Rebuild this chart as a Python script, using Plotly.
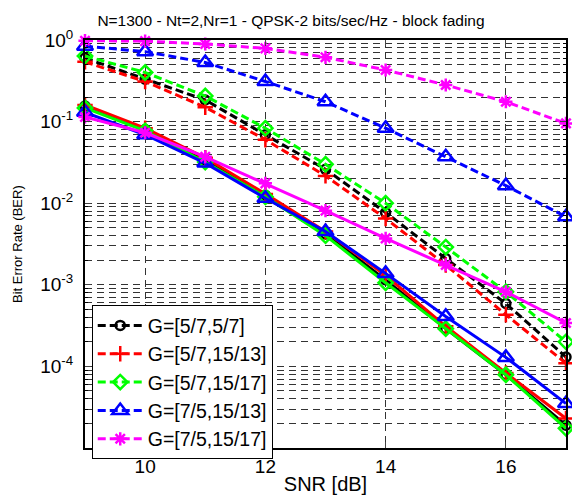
import plotly.graph_objects as go

snr = [9, 10, 11, 12, 13, 14, 15, 16, 17]

names = ["G=[5/7,5/7]", "G=[5/7,15/13]", "G=[5/7,15/17]", "G=[7/5,15/13]", "G=[7/5,15/17]"]
colors = ["#000000", "#ff0000", "#00ff00", "#0000ff", "#ff00ff"]
symbols = ["circle-open", "cross-thin-open", "diamond-open", "triangle-up-open", "asterisk-open"]
msizes = [9, 11, 11, 14, 11]

# dashed curves
ber_dashed = [
    [0.60, 0.33, 0.184, 0.069, 0.026, 0.0077, 0.0021, 5.9e-4, 1.3e-4],
    [0.54, 0.31, 0.15, 0.060, 0.0216, 0.0065, 0.00175, 4.3e-4, 1.09e-4],
    [0.637, 0.40, 0.206, 0.083, 0.030, 0.0100, 0.0029, 8.2e-4, 2.0e-4],
    [0.84, 0.72, 0.53, 0.31, 0.175, 0.083, 0.037, 0.0164, 0.0068],
    [0.98, 0.97, 0.893, 0.79, 0.614, 0.429, 0.281, 0.175, 0.095],
]
# solid curves
ber_solid = [
    [0.155, 0.080, 0.034, 0.0125, 0.0042, 0.00115, 2.9e-4, 7.9e-5, 1.9e-5],
    [0.160, 0.083, 0.036, 0.0130, 0.0045, 0.00130, 3.1e-4, 8.3e-5, 2.3e-5],
    [0.147, 0.077, 0.032, 0.0120, 0.0040, 0.00106, 2.9e-4, 7.9e-5, 1.74e-5],
    [0.130, 0.069, 0.031, 0.0115, 0.0045, 0.00138, 4.1e-4, 1.29e-4, 3.5e-5],
    [0.114, 0.073, 0.037, 0.0175, 0.0081, 0.0037, 0.00175, 8.2e-4, 3.4e-4],
]

ytickvals = [1, 0.1, 0.01, 0.001, 0.0001]
yticktext = ["10<sup>0</sup>", "10<sup>-1</sup>", "10<sup>-2</sup>", "10<sup>-3</sup>", "10<sup>-4</sup>"]
xtickvals = [10, 12, 14, 16]

fig = go.Figure()

for i in range(5):
    fig.add_trace(go.Scatter(
        x=snr, y=ber_dashed[i], name=names[i], mode="lines+markers",
        line=dict(color=colors[i], width=3, dash="8px,4px"),
        marker=dict(symbol=symbols[i], size=msizes[i], color=colors[i],
                    line=dict(color=colors[i], width=2.5)),
        cliponaxis=False, showlegend=True,
    ))
for i in range(5):
    fig.add_trace(go.Scatter(
        x=snr, y=ber_solid[i], name=names[i], mode="lines+markers",
        line=dict(color=colors[i], width=3),
        marker=dict(symbol=symbols[i], size=msizes[i], color=colors[i],
                    line=dict(color=colors[i], width=2.5)),
        cliponaxis=False, showlegend=False,
    ))

minor_vals = [m * 10.0 ** k for k in range(-5, 0) for m in range(2, 10)]

# the page body adds an 8px offset, so the figure is 8px smaller on each side
W, H = 572, 489
fig.update_layout(
    width=W, height=H,
    margin=dict(l=77, r=14, t=32, b=49, autoexpand=False),
    paper_bgcolor="white", plot_bgcolor="white",
    font=dict(family="Liberation Sans, Arial, sans-serif", size=19, color="black"),
    title=dict(text="N=1300 - Nt=2,Nr=1 - QPSK-2 bits/sec/Hz - block fading",
               font=dict(size=15.5, color="black"), x=(291 - 8) / W, xref="container",
               xanchor="center", y=1 - 13 / H, yanchor="middle", yref="container"),
    showlegend=True,
    legend=dict(x=0.014, y=0.35, xanchor="left", yanchor="top",
                bgcolor="white", bordercolor="black", borderwidth=1,
                font=dict(size=19.5), itemwidth=45, tracegroupgap=0),
    xaxis=dict(range=[9, 17], tickvals=xtickvals, ticks="inside", ticklen=6,
               showline=True, linecolor="black", linewidth=2, mirror="allticks",
               showgrid=True, gridcolor="#333333", griddash="7px,5px", gridwidth=1,
               zeroline=False, automargin=False,
               title=dict(text="SNR [dB]", standoff=1, font=dict(size=20))),
    yaxis=dict(type="log", range=[-5, 0], tickvals=ytickvals, ticktext=yticktext,
               ticks="inside", ticklen=6, automargin=False, ticklabelstandoff=6,
               showline=True, linecolor="black", linewidth=2, mirror="allticks",
               showgrid=True, gridcolor="#333333", griddash="7px,5px", gridwidth=1,
               zeroline=False,
               minor=dict(tickvals=minor_vals, ticks="inside", ticklen=3,
                          tickcolor="black", showgrid=True, gridcolor="#333333",
                          griddash="7px,5px", gridwidth=1)),
    annotations=[dict(text="Bit Error Rate (BER)", xref="paper", yref="paper",
                      x=(9 - 77) / 481, y=0.5, textangle=-90, showarrow=False,
                      font=dict(size=13), xanchor="center", yanchor="middle")],
)

fig.write_html("out.html")
